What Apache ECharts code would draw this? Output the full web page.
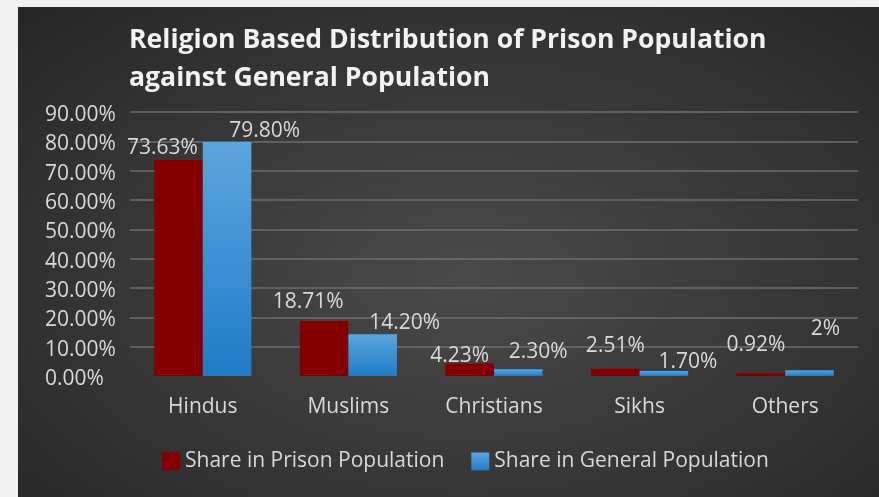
<!DOCTYPE html>
<html>
<head>
<meta charset="utf-8">
<title>Religion Based Distribution of Prison Population against General Population</title>
<script src="https://cdn.jsdelivr.net/npm/echarts@6/dist/echarts.min.js"></script>
<style>
  html, body { margin: 0; padding: 0; background: #f0f0f0; }
  body { width: 879px; height: 497px; position: relative; overflow: hidden; }
  #chart {
    position: absolute; left: 18px; top: 7px; width: 861px; height: 490px;
    background: radial-gradient(ellipse farthest-corner at 52% 55%, #4a4a4a 0%, #3a3a3a 45%, #262626 100%);
  }
</style>
</head>
<body>
<div id="chart"></div>
<script>
// Religious groups on the category axis
const religions = ['Hindus', 'Muslims', 'Christians', 'Sikhs', 'Others'];
// Share of each group in the prison population (%)
const prisonShare = [73.63, 18.71, 4.23, 2.51, 0.92];
// Share of each group in the general population (%)
const generalShare = [79.80, 14.20, 2.30, 1.70, 2];
const seriesNames = ['Share in Prison Population', 'Share in General Population'];

// Hand-placed label nudges [dx, dy] for each bar's value label
const prisonLabelShift = [[-16, -3.5], [-16, -11], [-10, 1], [0, -14.5], [-5, -19.3]];
const generalLabelShift = [[37.5, -2.5], [32, -2.5], [20, -8.5], [24, 0], [16, -33]];
// Open Sans digits sit a little high in their line box
const GLYPH_DROP = 2;

const FONT = '"Open Sans", "Noto Sans", sans-serif';
const TEXT = '#d9d9d9';

function pct(v) {
  return Number.isInteger(v) ? v + '%' : v.toFixed(2) + '%';
}

function withLabels(values, shifts) {
  return values.map((v, i) => ({
    value: v,
    label: { offset: [shifts[i][0], shifts[i][1] + GLYPH_DROP] }
  }));
}

const chart = echarts.init(document.getElementById('chart'), null, { renderer: 'canvas' });

const labelStyle = {
  show: true,
  position: 'top',
  distance: 0,
  color: TEXT,
  fontFamily: FONT,
  fontSize: 21,
  lineHeight: 21,
  formatter: p => pct(p.value)
};

chart.setOption({
  backgroundColor: 'transparent',
  animation: false,
  textStyle: { fontFamily: FONT },
  title: {
    text: 'Religion Based Distribution of Prison Population\nagainst General Population',
    left: 106,
    top: 9,
    textStyle: {
      color: '#f2f2f2',
      fontFamily: FONT,
      fontWeight: 'bold',
      fontSize: 26.6,
      lineHeight: 38
    }
  },
  legend: {
    left: 139,
    top: 439,
    itemWidth: 18,
    itemHeight: 18,
    itemGap: 27,
    icon: 'rect',
    textStyle: { color: TEXT, fontFamily: FONT, fontSize: 21 },
    data: seriesNames
  },
  grid: { left: 112, top: 105, width: 728, height: 264, containLabel: false },
  xAxis: {
    type: 'category',
    data: religions,
    axisLine: { show: false },
    axisTick: { show: false },
    axisLabel: { color: TEXT, fontFamily: FONT, fontSize: 21, margin: 21 }
  },
  yAxis: {
    type: 'value',
    min: 0,
    max: 90,
    interval: 10,
    axisLine: { show: false },
    axisTick: { show: false },
    axisLabel: {
      color: TEXT, fontFamily: FONT, fontSize: 21,
      align: 'left', margin: 85,
      formatter: v => '{t|' + v.toFixed(2) + '%}',
      rich: {
        t: {
          color: TEXT, fontFamily: FONT, fontSize: 21, lineHeight: 21,
          padding: [6, 0, 0, 0]
        }
      }
    },
    splitLine: {
      show: true,
      showMinLine: false,
      lineStyle: { color: '#6e6e6e', width: 1.5 }
    }
  },
  series: [
    {
      name: seriesNames[0],
      type: 'bar',
      barGap: '0%',
      barCategoryGap: '33.3%',
      itemStyle: { color: '#840000' },
      label: labelStyle,
      data: withLabels(prisonShare, prisonLabelShift)
    },
    {
      name: seriesNames[1],
      type: 'bar',
      barGap: '0%',
      barCategoryGap: '33.3%',
      itemStyle: {
        color: new echarts.graphic.LinearGradient(0, 0, 0, 1, [
          { offset: 0, color: '#5ca6de' },
          { offset: 1, color: '#1f7bc6' }
        ])
      },
      label: labelStyle,
      data: withLabels(generalShare, generalLabelShift)
    }
  ]
});
</script>
</body>
</html>
